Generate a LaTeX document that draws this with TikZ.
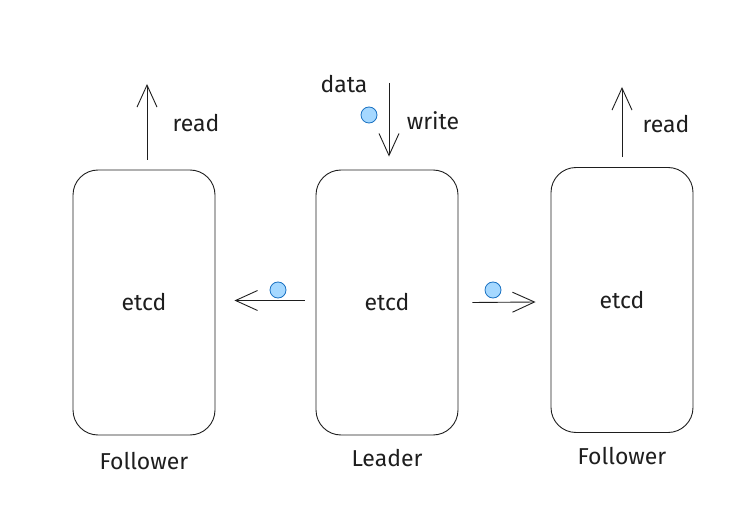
\documentclass[tikz,border=0pt]{standalone}
\usepackage{fontspec}
\setmainfont{Fira Sans}
\usepackage{xcolor}
\usetikzlibrary{arrows.meta,positioning}
\definecolor{ink}{HTML}{1E1E1E}
\definecolor{msgfill}{HTML}{A5D8FF}
\definecolor{msgline}{HTML}{1971C2}
\begin{document}
\begin{tikzpicture}[x=1pt, y=-1pt, font=\fontsize{23}{26}\selectfont, color=ink,
    >={Straight Barb[length=22pt,width=20pt]}, line width=0.9pt,
    member/.style={draw, rounded corners=25pt, minimum width=142pt, minimum height=265pt, inner sep=0pt},
    role/.style={align=center},
    msg/.style={circle, draw=msgline, fill=msgfill, minimum size=16pt, inner sep=0pt, line width=0.8pt}]
  \useasboundingbox (0,0) rectangle (746,518);

  % --- Cluster members ---
  \node[member] (lead) at (387,302.5) {etcd};
  \node[member] (fl) at (144,302.5) {etcd};
  \node[member] (fr) at (622,300) {etcd};
  \node[role, below=13pt of fl] (flname) {Follower};
  \node[role, below=10pt of lead] (leadname) {Leader};
  \node[role, below=11pt of fr] (frname) {Follower};

  % --- Client traffic ---
  \coordinate (readL) at (147,84);
  \coordinate (readR) at (622,87);
  \coordinate (writein) at (389,83);
  \draw[->] ([xshift=3pt,yshift=10pt]fl.north) -- (readL);
  \draw[->] ([yshift=10pt]fr.north) -- (readR);
  \draw[->] (writein) -- ([xshift=2pt,yshift=13pt]lead.north);
  \node at (196,123) (readLtxt) {read};
  \node at (666,124) (readRtxt) {read};
  \node at (344,84) (datatxt) {data};
  \node at (433,121) (writetxt) {write};
  \node[msg] at (369,115) (wmsg) {};

  % --- Replication ---
  \draw[->] ([xshift=-11pt,yshift=2pt]lead.west) -- ([xshift=19pt,yshift=2pt]fl.east);
  \draw[->] ([xshift=14pt]lead.east) -- ([xshift=-15pt,yshift=-2pt]fr.west);
  \node[msg] at (278,290) (lmsg) {};
  \node[msg] at (493,290) (rmsg) {};
\end{tikzpicture}
\end{document}
